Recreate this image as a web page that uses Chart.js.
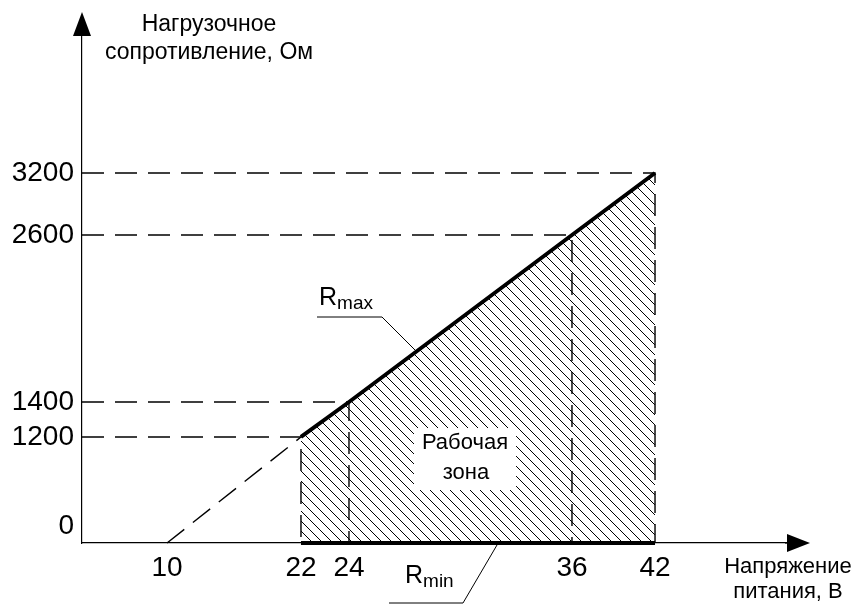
<!DOCTYPE html>
<html>
<head>
<meta charset="utf-8">
<script src="https://cdn.jsdelivr.net/npm/chart.js@4/dist/chart.umd.min.js"></script>
<style>
  body { margin: 0; background: #fff; }
  canvas { display: block; }
</style>
</head>
<body>
<canvas id="chart" width="860" height="608"></canvas>
<script>
// working range: supply voltage (V) vs load resistance (Ohm)
const voltage = [22, 24, 36, 42];
const rMax = [1200, 1400, 2600, 3200];
const rMinVoltage = [22, 42];
const rMin = [0, 0];
const extVoltage = [10, 22];
const extR = [0, 1200];
const xTicks = [10, 22, 24, 36, 42];
const yTicks = [0, 1200, 1400, 2600, 3200];

// the drawing is a schematic, so the axes are piecewise linear
// [value, fraction of axis length]
const xStops = [[0, 0], [10, 0.1206], [22, 0.3106], [24, 0.3787], [36, 0.695], [42, 0.8128], [52, 1]];
const yStops = [[0, 0], [1200, 0.2091], [1400, 0.2781], [2600, 0.6075], [3200, 0.7298], [4200, 1]];
const stopsById = { x: xStops, y: yStops };

function toFraction(stops, v) {
  for (let i = 1; i < stops.length; i++) {
    const [v0, f0] = stops[i - 1], [v1, f1] = stops[i];
    if (v <= v1 || i === stops.length - 1) return f0 + (v - v0) * (f1 - f0) / (v1 - v0);
  }
}
function fromFraction(stops, f) {
  for (let i = 1; i < stops.length; i++) {
    const [v0, f0] = stops[i - 1], [v1, f1] = stops[i];
    if (f <= f1 || i === stops.length - 1) return v0 + (f - f0) * (v1 - v0) / (f1 - f0);
  }
}

const LinearScale = Chart.LinearScale || Chart.registry.getScale('linear');
class SchematicScale extends LinearScale {
  getPixelForValue(value) {
    if (value === null || value === undefined || isNaN(value)) return NaN;
    return this.getPixelForDecimal(toFraction(stopsById[this.id], value));
  }
  getValueForPixel(pixel) {
    return fromFraction(stopsById[this.id], this.getDecimalForPixel(pixel));
  }
}
SchematicScale.id = 'schematic';
SchematicScale.defaults = LinearScale.defaults;
Chart.register(SchematicScale);

const FONT = "'Liberation Sans', Arial, sans-serif";
Chart.defaults.font.family = FONT;
Chart.defaults.color = '#000';

// hatch pattern for the working zone
function hatch() {
  const c = document.createElement('canvas');
  c.width = 10; c.height = 10;
  const g = c.getContext('2d');
  g.strokeStyle = '#000';
  g.lineWidth = 1;
  g.beginPath();
  g.moveTo(-1, -1); g.lineTo(11, 11);
  g.moveTo(-1, 9); g.lineTo(1, 11);
  g.moveTo(9, -1); g.lineTo(11, 1);
  g.stroke();
  return g.createPattern(c, 'repeat');
}

const pts = (xs, ys) => xs.map((x, i) => ({ x: x, y: ys[i] }));

const guides = voltage.map((v, i) => ({
  data: [{ x: 0, y: rMax[i] }, { x: v, y: rMax[i] }, { x: v, y: 0 }],
  borderColor: '#000',
  borderWidth: 1.4,
  borderDash: [22, 11],
  pointRadius: 0,
  fill: false,
  clip: false
}));

const decor = {
  id: 'decor',
  afterDatasetsDraw(chart) {
    const ctx = chart.ctx;
    ctx.save();
    ctx.fillStyle = '#fff';
    ctx.fillRect(414, 428, 102, 62);
    ctx.fillStyle = '#000';
    ctx.font = '22px ' + FONT;
    ctx.textAlign = 'center';
    ctx.textBaseline = 'middle';
    ctx.fillText('Рабочая', 465, 443);
    ctx.fillText('зона', 466, 473);
    ctx.restore();
  },
  afterDraw(chart) {
    const ctx = chart.ctx;
    const a = chart.chartArea;
    ctx.save();
    ctx.fillStyle = '#000';
    ctx.strokeStyle = '#000';
    // arrow heads
    ctx.beginPath();
    ctx.moveTo(a.left, 12); ctx.lineTo(a.left - 9, a.top); ctx.lineTo(a.left + 9, a.top);
    ctx.closePath(); ctx.fill();
    ctx.beginPath();
    ctx.moveTo(810, a.bottom); ctx.lineTo(a.right, a.bottom - 9); ctx.lineTo(a.right, a.bottom + 9);
    ctx.closePath(); ctx.fill();
    ctx.beginPath();
    ctx.lineWidth = 1.2;
    ctx.moveTo(a.right - 2, a.bottom); ctx.lineTo(800, a.bottom);
    ctx.stroke();

    // axis titles
    ctx.font = '23px ' + FONT;
    ctx.textAlign = 'center';
    ctx.textBaseline = 'middle';
    ctx.fillText('Нагрузочное', 209, 25);
    ctx.fillText('сопротивление, Ом', 209, 53);
    ctx.font = '22px ' + FONT;
    ctx.fillText('Напряжение', 788, 567);
    ctx.fillText('питания, В', 788, 592);

    // R max / R min callouts
    ctx.textAlign = 'left';
    ctx.textBaseline = 'alphabetic';
    const label = (x, y, sub) => {
      ctx.font = '25px ' + FONT;
      ctx.fillText('R', x, y);
      const w = ctx.measureText('R').width;
      ctx.font = '19px ' + FONT;
      ctx.fillText(sub, x + w, y + 4);
    };
    label(319, 305, 'max');
    label(405, 583, 'min');
    ctx.lineWidth = 1;
    ctx.beginPath();
    ctx.moveTo(317, 317); ctx.lineTo(382, 317); ctx.lineTo(416, 351);
    ctx.moveTo(389, 603); ctx.lineTo(463, 603); ctx.lineTo(497, 545);
    ctx.stroke();
    ctx.restore();
  }
};

new Chart(document.getElementById('chart'), {
  type: 'line',
  data: {
    datasets: [
      {
        label: 'Rmax',
        data: pts(voltage, rMax),
        borderColor: '#000',
        borderWidth: 4,
        backgroundColor: hatch(),
        fill: 'origin',
        pointRadius: 0,
        clip: false
      },
      {
        label: 'Rmin',
        data: pts(rMinVoltage, rMin),
        borderColor: '#000',
        borderWidth: 4,
        pointRadius: 0,
        fill: false,
        clip: false
      },
      {
        label: 'ext',
        data: pts(extVoltage, extR),
        borderColor: '#000',
        borderWidth: 1.4,
        borderDash: [22, 11],
        pointRadius: 0,
        fill: false,
        clip: false
      }
    ].concat(guides)
  },
  options: {
    responsive: false,
    animation: false,
    layout: { padding: { left: 0, right: 73, top: 36, bottom: 0 } },
    plugins: {
      legend: { display: false },
      tooltip: { enabled: false }
    },
    scales: {
      x: {
        type: 'schematic',
        min: 0,
        max: 52,
        afterBuildTicks: axis => { axis.ticks = xTicks.map(v => ({ value: v })); },
        afterFit: axis => { axis.height = 65; },
        grid: { display: false, drawTicks: false },
        border: { display: true, color: '#000', width: 1.2 },
        ticks: {
          autoSkip: false,
          maxRotation: 0,
          padding: 8,
          color: '#000',
          font: { size: 28 },
          callback: v => String(v)
        }
      },
      y: {
        type: 'schematic',
        min: 0,
        max: 4200,
        afterBuildTicks: axis => { axis.ticks = yTicks.map(v => ({ value: v })); },
        afterFit: axis => { axis.width = 82; },
        grid: { display: false, drawTicks: false },
        border: { display: true, color: '#000', width: 1.2 },
        ticks: {
          autoSkip: false,
          padding: 8,
          color: '#000',
          font: { size: 28 },
          callback: v => v === 0 ? ['0', ''] : String(v)
        }
      }
    }
  },
  plugins: [decor]
});
</script>
</body>
</html>
